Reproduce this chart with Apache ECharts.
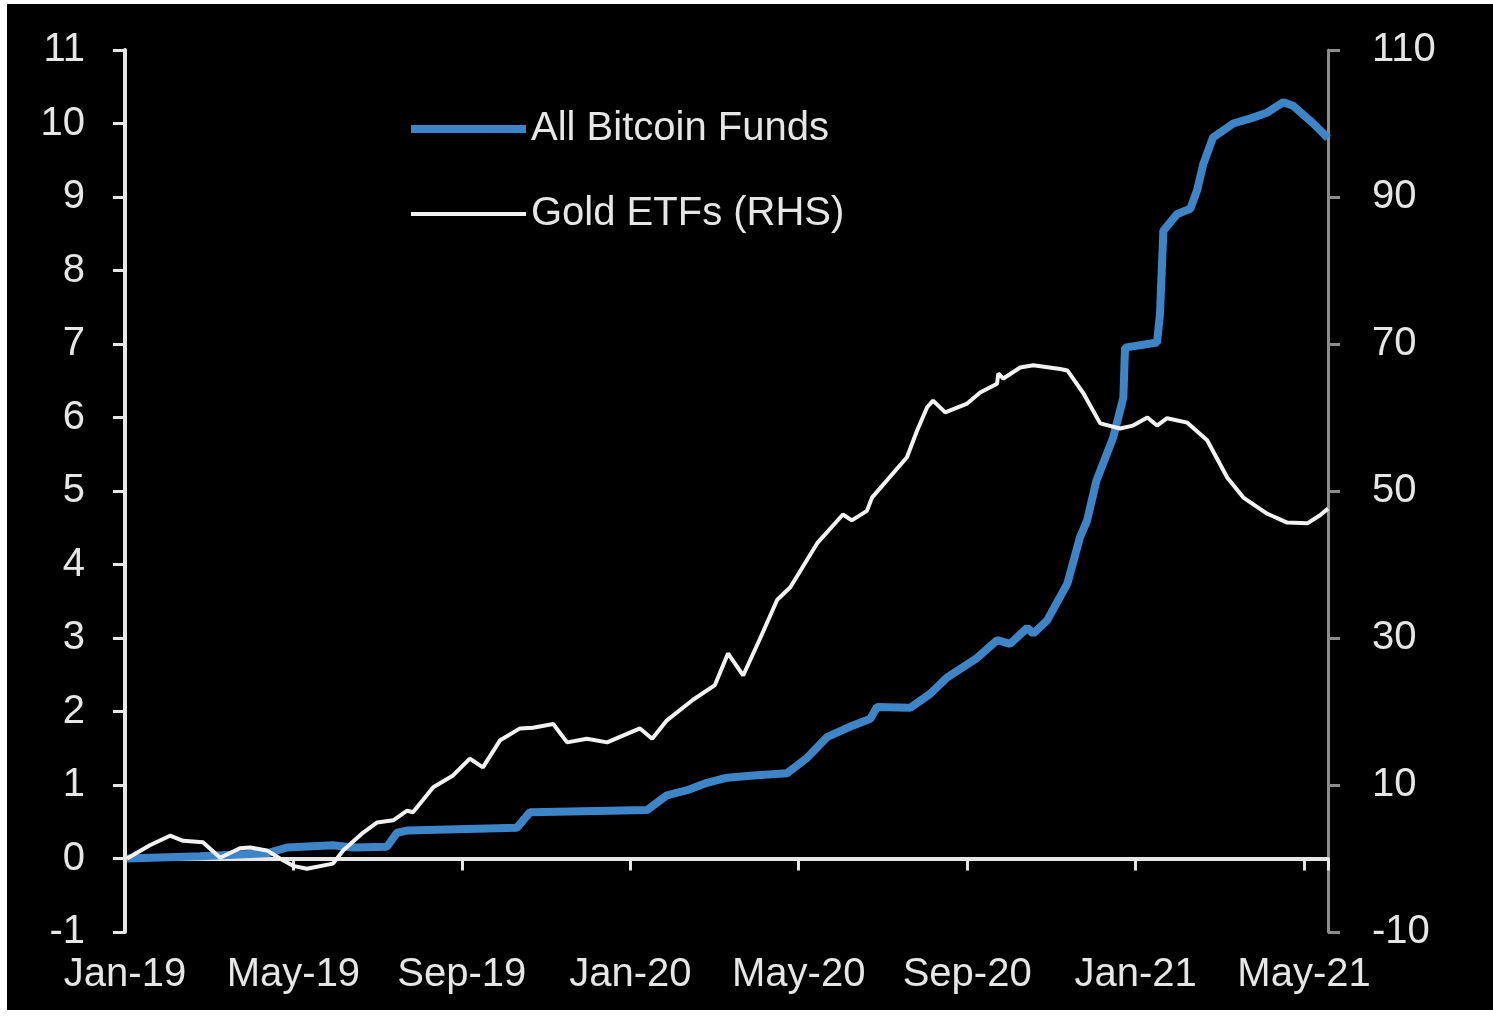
<!DOCTYPE html>
<html>
<head>
<meta charset="utf-8">
<title>All Bitcoin Funds vs Gold ETFs</title>
<script src="https://cdn.jsdelivr.net/npm/echarts@6/dist/echarts.min.js"></script>
<style>
  html, body { margin: 0; padding: 0; background: #ffffff; }
  #chart { position: absolute; left: 7px; top: 4px; right: 0; bottom: 6px; background: #000000; }
</style>
</head>
<body>
<div id="chart"></div>
<script>
// x values are months since Jan-19 (0 = Jan-19, 4 = May-19, ...)
var xLabels = ['Jan-19', 'May-19', 'Sep-19', 'Jan-20', 'May-20', 'Sep-20', 'Jan-21', 'May-21'];

// All Bitcoin Funds, LHS
var btcMonths = [0.05, 1.78, 3.37, 3.85, 4.94, 5.42, 6.22, 6.46, 6.70, 9.31, 9.62, 12.40, 12.87, 13.35, 13.82, 14.30, 14.92, 15.72, 16.20, 16.67, 17.29, 17.70, 17.86, 18.65, 19.12, 19.52, 20.24, 20.71, 21.02, 21.43, 21.57, 21.90, 22.38, 22.68, 22.85, 23.07, 23.47, 23.71, 23.75, 24.51, 24.58, 24.66, 24.99, 25.30, 25.46, 25.61, 25.84, 26.32, 26.79, 27.13, 27.51, 27.74, 28.22, 28.57];
var btcValues = [0.0, 0.03, 0.07, 0.15, 0.18, 0.15, 0.16, 0.35, 0.38, 0.42, 0.63, 0.66, 0.86, 0.93, 1.03, 1.10, 1.13, 1.16, 1.37, 1.65, 1.81, 1.90, 2.06, 2.05, 2.24, 2.46, 2.73, 2.97, 2.92, 3.14, 3.06, 3.24, 3.74, 4.37, 4.60, 5.14, 5.73, 6.27, 6.95, 7.02, 7.41, 8.54, 8.77, 8.84, 9.09, 9.45, 9.81, 10.0, 10.08, 10.15, 10.29, 10.24, 10.0, 9.8];

// Gold ETFs, RHS
var goldMonths = [0.05, 0.59, 1.07, 1.38, 1.85, 2.26, 2.73, 2.97, 3.37, 3.68, 3.99, 4.32, 4.94, 5.18, 5.65, 5.99, 6.37, 6.70, 6.84, 7.32, 7.79, 8.19, 8.50, 8.91, 9.38, 9.69, 10.17, 10.50, 10.97, 11.45, 12.23, 12.52, 12.87, 13.49, 14.01, 14.32, 14.68, 15.08, 15.49, 15.80, 16.44, 17.05, 17.26, 17.62, 17.74, 18.57, 18.81, 19.05, 19.19, 19.48, 20.00, 20.31, 20.71, 20.74, 20.86, 21.26, 21.57, 22.21, 22.38, 22.76, 23.16, 23.63, 23.94, 24.28, 24.51, 24.75, 25.23, 25.70, 26.18, 26.56, 27.13, 27.60, 28.08, 28.38, 28.57];
var goldValues = [0, 1.8, 3.1, 2.4, 2.2, 0.1, 1.4, 1.5, 1.1, 0, -1.0, -1.4, -0.7, 1.1, 3.5, 4.9, 5.2, 6.5, 6.3, 9.7, 11.3, 13.6, 12.4, 16.1, 17.7, 17.8, 18.3, 15.8, 16.3, 15.8, 17.7, 16.3, 18.8, 21.6, 23.6, 27.9, 24.9, 29.9, 35.2, 36.9, 42.9, 46.8, 46.0, 47.3, 49.1, 54.6, 58.2, 61.4, 62.3, 60.7, 61.9, 63.4, 64.6, 66.0, 65.3, 66.8, 67.1, 66.6, 66.4, 63.3, 59.2, 58.5, 58.9, 60.0, 58.9, 59.9, 59.3, 56.9, 51.8, 49.1, 46.9, 45.7, 45.6, 46.7, 47.6];

function pairs(xs, ys) {
  var out = [];
  for (var i = 0; i < xs.length; i++) out.push([xs[i], ys[i]]);
  return out;
}

function monthLabel(v) {
  var k = v / 4;
  if (Math.abs(k - Math.round(k)) > 1e-6) return '';
  return xLabels[Math.round(k)] || '';
}

var font = '"Liberation Sans", Arial, sans-serif';
var fs = 40;
var chart = echarts.init(document.getElementById('chart'));

var option = {
  backgroundColor: '#000000',
  animation: false,
  grid: { left: 118, right: 165, top: 46, bottom: 78 },
  legend: {
    orient: 'vertical',
    left: 395,
    top: 100,
    itemWidth: 115,
    itemHeight: 14,
    itemGap: 45,
    itemStyle: { opacity: 0 },
    textStyle: { color: '#e6e6e6', fontSize: fs, fontFamily: font },
    data: [
      { name: 'All Bitcoin Funds', lineStyle: { width: 8, color: '#3d85c6' } },
      { name: 'Gold ETFs (RHS)', lineStyle: { width: 4, color: '#f2f2f2' } }
    ]
  },
  xAxis: [
    {
      // 零线上的横轴：轴线 + 刻度
      type: 'value',
      min: 0,
      max: 28.57,
      interval: 4,
      axisLine: { onZero: true, lineStyle: { color: '#e6e6e6', width: 4 } },
      axisTick: { show: true, inside: false, length: 12, lineStyle: { color: '#e6e6e6', width: 3 } },
      axisLabel: { show: false },
      splitLine: { show: false }
    },
    {
      // 底部的月份标签
      type: 'value',
      position: 'bottom',
      min: 0,
      max: 28.57,
      interval: 4,
      axisLine: { show: false, onZero: false },
      axisTick: { show: false },
      axisLabel: {
        margin: 23,
        color: '#e6e6e6',
        fontSize: fs,
        fontFamily: font,
        showMaxLabel: false,
        formatter: monthLabel
      },
      splitLine: { show: false }
    }
  ],
  yAxis: [
    {
      type: 'value',
      min: -1,
      max: 11,
      interval: 1,
      position: 'left',
      axisLine: { show: true, onZero: false, lineStyle: { color: '#e6e6e6', width: 4 } },
      axisTick: { show: true, length: 12, lineStyle: { color: '#e6e6e6', width: 3 } },
      axisLabel: { margin: 40, color: '#e6e6e6', fontSize: fs, fontFamily: font },
      splitLine: { show: false }
    },
    {
      type: 'value',
      min: -10,
      max: 110,
      interval: 20,
      position: 'right',
      axisLine: { show: true, onZero: false, lineStyle: { color: '#8c8c8c', width: 3 } },
      axisTick: { show: true, length: 12, lineStyle: { color: '#8c8c8c', width: 3 } },
      axisLabel: { margin: 44, color: '#e6e6e6', fontSize: fs, fontFamily: font },
      splitLine: { show: false }
    }
  ],
  series: [
    {
      name: 'All Bitcoin Funds',
      type: 'line',
      yAxisIndex: 0,
      symbol: 'none',
      color: '#3d85c6',
      lineStyle: { color: '#3d85c6', width: 8 },
      data: pairs(btcMonths, btcValues)
    },
    {
      name: 'Gold ETFs (RHS)',
      type: 'line',
      yAxisIndex: 1,
      symbol: 'none',
      color: '#f2f2f2',
      lineStyle: { color: '#f2f2f2', width: 4 },
      data: pairs(goldMonths, goldValues)
    }
  ]
};

chart.setOption(option);
</script>
</body>
</html>
